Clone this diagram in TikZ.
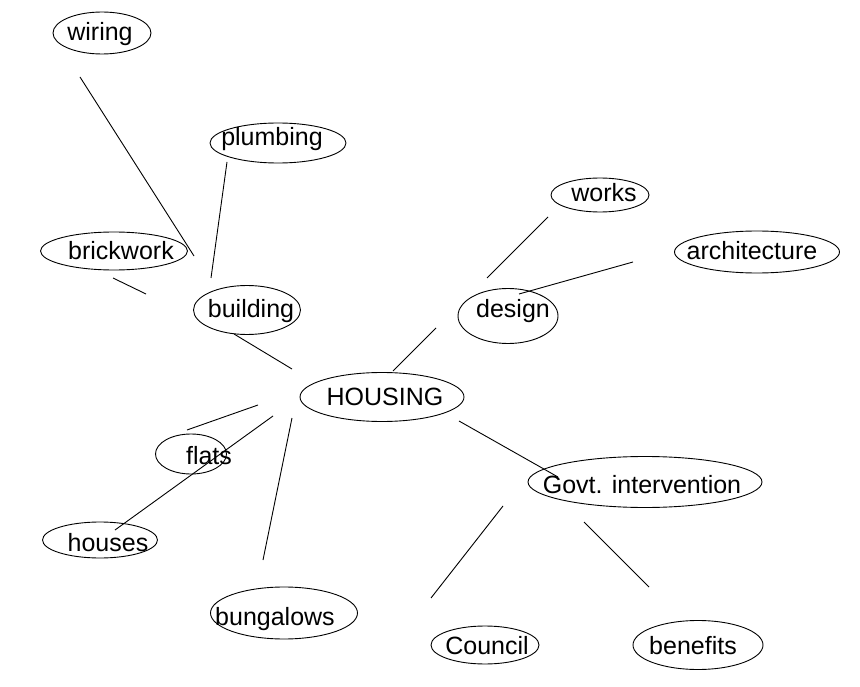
\documentclass[tikz,border=0pt]{standalone}
\usepackage{fontspec}
\setmainfont{Liberation Sans}
\usepackage{tikz}
\usetikzlibrary{shapes.geometric}

\begin{document}
\begin{tikzpicture}[x=1pt,y=-1pt,line width=0.9pt]
\tikzstyle{every node}+=[inner sep=0pt]
\tikzstyle{bubble}=[draw=black,ellipse]
\tikzstyle{word}=[anchor=base,font=\fontsize{25}{30}\selectfont]
\useasboundingbox (0,0) rectangle (860,687);
% bubbles
\node [bubble,minimum width=98,minimum height=42] (wiring-o) at (102,33) {};
\node [bubble,minimum width=136,minimum height=40] (plumbing-o) at (278,143) {};
\node [bubble,minimum width=147,minimum height=38] (brickwork-o) at (114,251) {};
\node [bubble,minimum width=107,minimum height=49] (building-o) at (247,310) {};
\node [bubble,minimum width=98,minimum height=34] (works-o) at (600,195) {};
\node [bubble,minimum width=165,minimum height=42] (architecture-o) at (757,252) {};
\node [bubble,minimum width=100,minimum height=55] (design-o) at (508,316) {};
\node [bubble,minimum width=164,minimum height=49] (housing-o) at (382,397) {};
\node [bubble,minimum width=71,minimum height=40] (flats-o) at (191,454) {};
\node [bubble,minimum width=115,minimum height=36] (houses-o) at (100,540) {};
\node [bubble,minimum width=147,minimum height=52] (bungalows-o) at (284,613) {};
\node [bubble,minimum width=234,minimum height=51] (govt-o) at (645,482) {};
\node [bubble,minimum width=108,minimum height=38] (council-o) at (485,645) {};
\node [bubble,minimum width=130,minimum height=49] (benefits-o) at (698,645) {};
% words
\node [word] (wiring) at (100,41) {wiring};
\node [word] (plumbing) at (272,146) {plumbing};
\node [word] (brickwork) at (121,260) {brickwork};
\node [word] (building) at (251,318) {building};
\node [word] (works) at (604,202) {works};
\node [word] (architecture) at (752,260) {architecture};
\node [word] (design) at (513,318) {design};
\node [word] (housing) at (385,405) {HOUSING};
\node [word] (flats) at (209,464) {flats};
\node [word] (houses) at (108,551) {houses};
\node [word] (bungalows) at (275,625) {bungalows};
\node [word] (govt) at (642,493) {Govt. intervention};
\node [word] (council) at (487,654) {Council};
\node [word] (benefits) at (693,654) {benefits};
% line ends
\coordinate (wiring-a) at (80,77);
\coordinate (wiring-b) at (194,256);
\coordinate (plumbing-a) at (227,162);
\coordinate (plumbing-b) at (211,278);
\coordinate (brickwork-a) at (113,278);
\coordinate (brickwork-b) at (146,294);
\coordinate (building-a) at (234,334);
\coordinate (building-b) at (292,369);
\coordinate (works-a) at (548,217);
\coordinate (works-b) at (487,278);
\coordinate (architecture-a) at (633,262);
\coordinate (architecture-b) at (519,294);
\coordinate (design-a) at (436,328);
\coordinate (design-b) at (393,371);
\coordinate (flats-a) at (187,430);
\coordinate (flats-b) at (258,405);
\coordinate (houses-a) at (115,530);
\coordinate (houses-b) at (273,416);
\coordinate (bungalows-a) at (292,418);
\coordinate (bungalows-b) at (263,560);
\coordinate (govt-a) at (459,421);
\coordinate (govt-b) at (558,477);
\coordinate (council-a) at (503,506);
\coordinate (council-b) at (431,598);
\coordinate (benefits-a) at (584,522);
\coordinate (benefits-b) at (649,587);
% lines
\draw [black] (wiring-a) -- (wiring-b);
\draw [black] (plumbing-a) -- (plumbing-b);
\draw [black] (brickwork-a) -- (brickwork-b);
\draw [black] (building-a) -- (building-b);
\draw [black] (works-a) -- (works-b);
\draw [black] (architecture-a) -- (architecture-b);
\draw [black] (design-a) -- (design-b);
\draw [black] (flats-a) -- (flats-b);
\draw [black] (houses-a) -- (houses-b);
\draw [black] (bungalows-a) -- (bungalows-b);
\draw [black] (govt-a) -- (govt-b);
\draw [black] (council-a) -- (council-b);
\draw [black] (benefits-a) -- (benefits-b);
\end{tikzpicture}
\end{document}
